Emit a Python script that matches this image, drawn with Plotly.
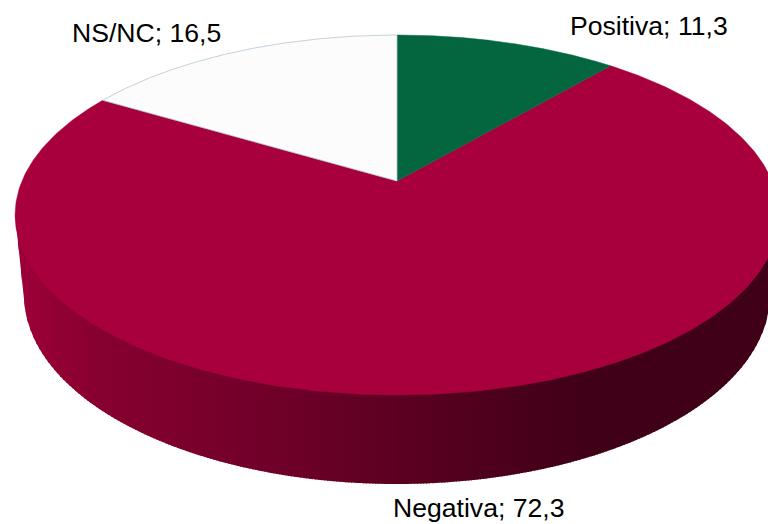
import numpy as np
import plotly.graph_objects as go

categories = ["Positiva", "Negativa", "NS/NC"]
values = [11.3, 72.3, 16.5]
tick_labels = [f"{c}; {str(v).replace('.', ',')}" for c, v in zip(categories, values)]

# Presentation
W, H = 768, 524
slice_colors = ["#03663F", "#A8003C", "#FCFCFD"]
slice_lines = ["#03663F", "#A8003C", "#B4C6D2"]
label_xy = [(649, 26), (478.5, 507.5), (146.5, 33)]
FONT = "Liberation Sans, Arial, sans-serif"
FS = 26.6

# Perspective projection of the pie's top face
CX, APEX_Y, D, A, C = 397.0, 181.0, 375.0, -139.39, 0.1889


def project(theta):
    """theta measured clockwise from 12 o'clock, radians."""
    u, v = np.sin(theta), np.cos(theta)
    den = 1 + C * v
    return CX + D * u / den, (A * v + APEX_Y) / den


# Lower rim of the side wall
RIM_RX, RIM_CY, RIM_RY = 373.0, 295.0, 189.0
shade_x = [15, 100, 300, 400, 500, 590, 790]
shade_r = [158, 135, 108, 92, 76, 64, 64]
shade_g = [0, 0, 0, 0, 0, 0, 0]
shade_b = [56, 48, 40, 33, 28, 24, 24]

fig = go.Figure()

# side wall as narrow vertical strips
tt = np.linspace(np.pi / 2 - 0.25, 3 * np.pi / 2 + 0.25, 2400)
tx, ty = project(tt)
order = np.argsort(tx)
tx, ty = tx[order], ty[order]
x_left, x_right = tx.min(), tx.max()


def upper(x):
    return np.interp(x, tx, ty)


def lower(x):
    d = np.asarray(x, float) - CX
    r = np.clip(1 - (d / RIM_RX) ** 2, 0, None)
    y = RIM_CY + RIM_RY * np.sqrt(r)
    # straight silhouette from the widest point of the face to the rim
    tL, tR = CX - RIM_RX, CX + RIM_RX
    yj = RIM_CY + RIM_RY * np.sqrt(1 - ((RIM_RX - 1) / RIM_RX) ** 2)
    y = np.where(d + CX < tL + 1, np.interp(d + CX, [x_left, tL + 1], [215, yj]), y)
    y = np.where(d + CX > tR - 1, np.interp(d + CX, [tR - 1, x_right], [yj, 215]), y)
    return y


edges = np.arange(x_left, x_right + 3, 3.0)
for a, b in zip(edges[:-1], edges[1:]):
    xs = np.linspace(a, b + 1.0, 4)
    mid = (a + b) / 2
    col = "rgb({:.0f},{:.0f},{:.0f})".format(
        np.interp(mid, shade_x, shade_r),
        np.interp(mid, shade_x, shade_g),
        np.interp(mid, shade_x, shade_b),
    )
    top = np.maximum(upper(xs) - 2, 215)
    fig.add_trace(go.Scatter(
        x=np.r_[xs, xs[::-1]], y=np.r_[top, lower(xs)[::-1]],
        mode="lines", fill="toself", fillcolor=col,
        line=dict(width=0), hoverinfo="skip", showlegend=False,
    ))

# top face slices, drawn from the values
fractions = np.array(values) / sum(values)
ends = np.cumsum(fractions) * 2 * np.pi
starts = np.r_[0, ends[:-1]]
for i in [1, 0, 2]:
    th = np.linspace(starts[i], ends[i], 400)
    x, y = project(th)
    fig.add_trace(go.Scatter(
        x=np.r_[CX, x, CX], y=np.r_[APEX_Y, y, APEX_Y],
        mode="lines", fill="toself", fillcolor=slice_colors[i],
        line=dict(width=0.8 if i == 2 else 0.5, color=slice_lines[i]),
        name=categories[i], hoverinfo="skip", showlegend=False,
    ))

annotations = [
    dict(x=px, y=py, text=t, showarrow=False, xanchor="center", yanchor="middle",
         font=dict(family=FONT, size=FS, color="#000000"))
    for t, (px, py) in zip(tick_labels, label_xy)
]

fig.update_layout(
    width=W, height=H,
    margin=dict(l=0, r=0, t=0, b=0),
    paper_bgcolor="#FFFFFF", plot_bgcolor="#FFFFFF",
    xaxis=dict(range=[0, W], visible=False, fixedrange=True),
    yaxis=dict(range=[H, 0], visible=False, fixedrange=True),
    annotations=annotations,
)

fig.write_html("out.html", config={"displayModeBar": False},
               post_script="document.body.style.margin='0';")
